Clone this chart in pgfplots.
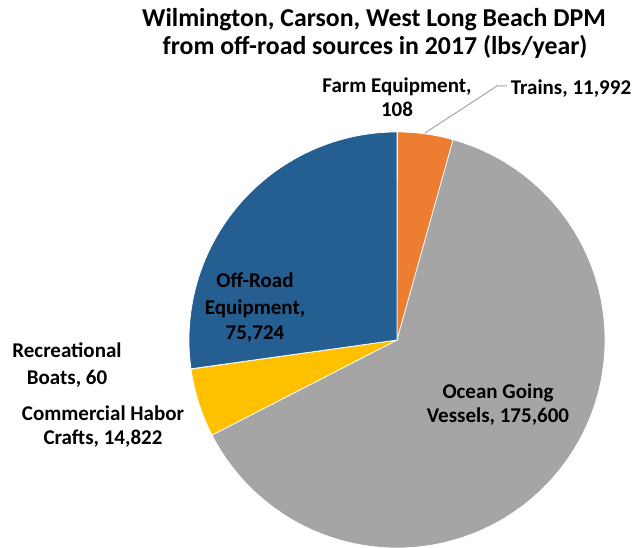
\documentclass[border=0pt]{standalone}
\usepackage{pgfplots}
\usepackage{pgfplotstable}
\pgfplotsset{compat=1.18}
\usepackage{fontspec}
\setmainfont{Carlito}
\definecolor{cfarm}{HTML}{4472C4}
\definecolor{ctrain}{HTML}{ED7D31}
\definecolor{cogv}{HTML}{A5A5A5}
\definecolor{cchc}{HTML}{FFC000}
\definecolor{crb}{HTML}{5B9BD5}
\definecolor{core}{HTML}{255E91}
\tikzset{
  lbl/.style={font=\fontsize{21bp}{25bp}\selectfont\bfseries, anchor=base, inner sep=0pt},
  ttl/.style={font=\fontsize{25.8bp}{31bp}\selectfont\bfseries, anchor=base, inner sep=0pt},
}

\pgfplotstableread{
label value
Farm 108
Trains 11992
OGV 175600
CHC 14822
RB 60
ORE 75724
}\piedata
\pgfplotstablegetelem{0}{value}\of\piedata \edef\vA{\pgfplotsretval}
\pgfplotstablegetelem{1}{value}\of\piedata \edef\vB{\pgfplotsretval}
\pgfplotstablegetelem{2}{value}\of\piedata \edef\vC{\pgfplotsretval}
\pgfplotstablegetelem{3}{value}\of\piedata \edef\vD{\pgfplotsretval}
\pgfplotstablegetelem{4}{value}\of\piedata \edef\vE{\pgfplotsretval}
\pgfplotstablegetelem{5}{value}\of\piedata \edef\vF{\pgfplotsretval}
\edef\total{\fpeval{\vA+\vB+\vC+\vD+\vE+\vF}}
\edef\tA{90}
\edef\tB{\fpeval{\tA-360*\vA/\total}}
\edef\tC{\fpeval{\tB-360*\vB/\total}}
\edef\tD{\fpeval{\tC-360*\vC/\total}}
\edef\tE{\fpeval{\tD-360*\vD/\total}}
\edef\tF{\fpeval{\tE-360*\vE/\total}}
\edef\tG{\fpeval{\tF-360*\vF/\total}}
\def\cx{397}\def\cy{208}\def\R{208}

\begin{document}
\begin{tikzpicture}
\begin{axis}[
  at={(0,0)}, anchor=south west,
  scale only axis, width=635bp, height=548bp,
  xmin=0, xmax=635, ymin=0, ymax=548,
  hide axis, clip=false,
  every axis plot/.append style={draw=white, line width=0.7pt},
]
\addplot[fill=cfarm, domain=\tB:\tA, samples=2] ({\cx+\R*cos(x)},{\cy+\R*sin(x)}) -- (axis cs:\cx,\cy) -- cycle;
\addplot[fill=ctrain, domain=\tC:\tB, samples=20] ({\cx+\R*cos(x)},{\cy+\R*sin(x)}) -- (axis cs:\cx,\cy) -- cycle;
\addplot[fill=cogv, domain=\tD:\tC, samples=200] ({\cx+\R*cos(x)},{\cy+\R*sin(x)}) -- (axis cs:\cx,\cy) -- cycle;
\addplot[fill=cchc, domain=\tE:\tD, samples=20] ({\cx+\R*cos(x)},{\cy+\R*sin(x)}) -- (axis cs:\cx,\cy) -- cycle;
\addplot[fill=crb, domain=\tF:\tE, samples=2] ({\cx+\R*cos(x)},{\cy+\R*sin(x)}) -- (axis cs:\cx,\cy) -- cycle;
\addplot[fill=core, domain=\tG:\tF, samples=100] ({\cx+\R*cos(x)},{\cy+\R*sin(x)}) -- (axis cs:\cx,\cy) -- cycle;

\draw[color=cogv, line width=1pt] (axis cs:425,415) -- (axis cs:497,462) -- (axis cs:507,462);

\node[ttl] at (axis cs:374,521) {Wilmington, Carson, West Long Beach DPM};
\node[ttl] at (axis cs:375,493) {from off-road sources in 2017 (lbs/year)};
\node[lbl] at (axis cs:397,455) {Farm Equipment,};
\node[lbl] at (axis cs:397,431) {108};
\node[lbl] at (axis cs:571,453) {Trains, 11,992};
\node[lbl] at (axis cs:67,190) {Recreational};
\node[lbl] at (axis cs:67,163) {Boats, 60};
\node[lbl] at (axis cs:103,127) {Commercial Habor};
\node[lbl] at (axis cs:103,103) {Crafts, 14,822};
\node[lbl] at (axis cs:255,260) {Off-Road};
\node[lbl] at (axis cs:255,233) {Equipment,};
\node[lbl] at (axis cs:255,208) {75,724};
\node[lbl] at (axis cs:498,149) {Ocean Going};
\node[lbl] at (axis cs:498,125) {Vessels, 175,600};
\end{axis}
\pgfresetboundingbox
\path[use as bounding box] (0,0) rectangle (635bp,548bp);
\end{tikzpicture}
\end{document}
